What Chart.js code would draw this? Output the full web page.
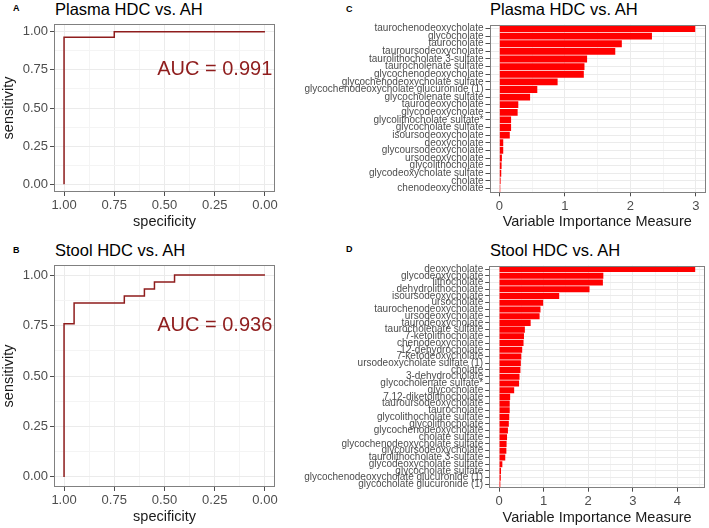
<!DOCTYPE html>
<html>
<head>
<meta charset="utf-8">
<script src="https://cdn.jsdelivr.net/npm/chart.js@4.4.1/dist/chart.umd.min.js"></script>
<style>
  html, body { margin: 0; padding: 0; background: #fff; }
  body { width: 709px; height: 528px; position: relative; overflow: hidden;
         font-family: "Liberation Sans", Arial, sans-serif; }
  .wrap { position: absolute; }
  .ttl { position: absolute; font-size: 16.5px; color: #000; white-space: nowrap; line-height: 1; }
  .tag { position: absolute; font-size: 9px; font-weight: bold; color: #000; line-height: 1; }
</style>
</head>
<body>
<div class="tag" style="left:13px;top:4px">A</div>
<div class="ttl" style="left:55px;top:1px">Plasma HDC vs. AH</div>
<div class="tag" style="left:13px;top:246px">B</div>
<div class="ttl" style="left:55px;top:242px">Stool HDC vs. AH</div>
<div class="tag" style="left:346px;top:5px">C</div>
<div class="ttl" style="left:490px;top:1px">Plasma HDC vs. AH</div>
<div class="tag" style="left:346px;top:245px">D</div>
<div class="ttl" style="left:490px;top:242px">Stool HDC vs. AH</div>

<div class="wrap" style="left:0;top:0"><canvas id="rocA" width="290" height="240"></canvas></div>
<div class="wrap" style="left:0;top:240px"><canvas id="rocB" width="290" height="288"></canvas></div>
<div class="wrap" style="left:290px;top:0"><canvas id="vimC" width="419" height="240"></canvas></div>
<div class="wrap" style="left:290px;top:240px"><canvas id="vimD" width="419" height="288"></canvas></div>

<script>
'use strict';

/* ── Courbes ROC (spécificité / sensibilité) ── */
var ROC_A_SPEC = [1, 1, 0.75, 0];
var ROC_A_SENS = [0, 0.964, 1, 1];
var ROC_B_SPEC = [1, 1, 0.95, 0.70, 0.60, 0.55, 0.45, 0];
var ROC_B_SENS = [0, 0.759, 0.862, 0.897, 0.931, 0.966, 1, 1];
var AUC_A = '0.991';
var AUC_B = '0.936';
var ROC_BREAKS = [0, 0.25, 0.5, 0.75, 1];
var ROC_MINOR = [0.125, 0.375, 0.625, 0.875];

/* ── Importance des variables ── */
var PLASMA_LABELS = [
    'taurochenodeoxycholate', 'glycocholate', 'taurocholate', 'tauroursodeoxycholate',
    'taurolithocholate 3-sulfate', 'taurocholenate sulfate', 'glycochenodeoxycholate',
    'glycochenodeoxycholate sulfate', 'glycochenodeoxycholate glucuronide (1)',
    'glycocholenate sulfate', 'taurodeoxycholate', 'glycodeoxycholate',
    'glycolithocholate sulfate*', 'glycocholate sulfate', 'isoursodeoxycholate',
    'deoxycholate', 'glycoursodeoxycholate', 'ursodeoxycholate', 'glycolithocholate',
    'glycodeoxycholate sulfate', 'cholate', 'chenodeoxycholate'
];
var PLASMA_VIM = [
    2.99, 2.33, 1.87, 1.77, 1.34, 1.30, 1.29, 0.89, 0.58, 0.47, 0.29,
    0.28, 0.18, 0.18, 0.16, 0.06, 0.06, 0.04, 0.035, 0.03, 0.02, 0.015
];
var PLASMA_BREAKS = [0, 1, 2, 3];
var PLASMA_MINOR = [0.5, 1.5, 2.5];

var STOOL_LABELS = [
    'deoxycholate', 'glycodeoxycholate', 'lithocholate', 'dehydrolithocholate',
    'isoursodeoxycholate', 'ursocholate', 'taurochenodeoxycholate', 'ursodeoxycholate',
    'taurodeoxycholate', 'taurocholenate sulfate', '7-ketolithocholate', 'chenodeoxycholate',
    '12-dehydrocholate', '7-ketodeoxycholate', 'ursodeoxycholate sulfate (1)', 'cholate',
    '3-dehydrocholate', 'glycocholenate sulfate*', 'glycocholate', '7,12-diketolithocholate',
    'tauroursodeoxycholate', 'taurocholate', 'glycolithocholate sulfate', 'glycolithocholate',
    'glycochenodeoxycholate', 'cholate sulfate', 'glycochenodeoxycholate sulfate',
    'glycoursodeoxycholate', 'taurolithocholate 3-sulfate', 'glycodeoxycholate sulfate',
    'glycocholate sulfate', 'glycochenodeoxycholate glucuronide (1)', 'glycocholate glucuronide (1)'
];
var STOOL_VIM = [
    4.40, 2.34, 2.33, 2.03, 1.35, 0.99, 0.93, 0.91, 0.71, 0.58, 0.56,
    0.55, 0.52, 0.50, 0.49, 0.48, 0.46, 0.45, 0.34, 0.25, 0.24, 0.24,
    0.23, 0.22, 0.20, 0.18, 0.17, 0.165, 0.14, 0.075, 0.045, 0.04, 0.03
];
var STOOL_BREAKS = [0, 1, 2, 3, 4];
var STOOL_MINOR = [0.5, 1.5, 2.5, 3.5, 4.5];

/* ── Style ── */
var ROC_COLOR = '#8f1d1d';
var BAR_COLOR = '#ff0000';
var GRID_MAJOR = '#ebebeb';
var GRID_MINOR = '#f4f4f4';
var TICK_COLOR = '#4d4d4d';

Chart.defaults.font.family = '"Liberation Sans", Arial, sans-serif';
Chart.defaults.color = '#4d4d4d';

/* Cadre du panneau (theme_bw) */
var panelBorder = {
    id: 'panelBorder',
    afterDatasetsDraw: function (chart) {
        var a = chart.chartArea, c = chart.ctx;
        c.save();
        c.strokeStyle = '#808080';
        c.lineWidth = 1;
        c.strokeRect(Math.round(a.left) + 0.5, Math.round(a.top) + 0.5,
                     Math.round(a.right - a.left) - 1, Math.round(a.bottom - a.top) - 1);
        c.restore();
    }
};

/* Texte AUC placé en coordonnées de données */
var aucLabel = {
    id: 'aucLabel',
    afterDatasetsDraw: function (chart, args, opts) {
        if (!opts || !opts.text) { return; }
        var c = chart.ctx;
        c.save();
        c.font = '20px "Liberation Sans", Arial, sans-serif';
        c.fillStyle = ROC_COLOR;
        c.textAlign = 'center';
        c.textBaseline = 'middle';
        c.fillText(opts.text, chart.scales.x.getPixelForValue(opts.x),
                   chart.scales.y.getPixelForValue(opts.y));
        c.restore();
    }
};

/* ── Utilitaires ── */
function tickList(major, minor) {
    return major.concat(minor).sort(function (a, b) { return a - b; })
        .map(function (v) { return { value: v }; });
}

function numAxis(opts) {
    var major = opts.major;
    var ax = {
        type: 'linear',
        min: opts.min,
        max: opts.max,
        reverse: !!opts.reverse,
        afterBuildTicks: function (s) { s.ticks = tickList(major, opts.minor); },
        ticks: {
            autoSkip: false, maxRotation: 0, padding: 2,
            font: { size: 13 }, color: TICK_COLOR,
            callback: function (v) {
                return major.indexOf(v) >= 0 ? v.toFixed(opts.digits) : '';
            }
        },
        grid: {
            tickLength: 4,
            color: function (ctx) {
                return ctx.tick && major.indexOf(ctx.tick.value) >= 0 ? GRID_MAJOR : GRID_MINOR;
            },
            tickColor: function (ctx) {
                return ctx.tick && major.indexOf(ctx.tick.value) >= 0 ? TICK_COLOR : 'rgba(0,0,0,0)';
            }
        },
        border: { display: false },
        title: { display: true, text: opts.title, color: '#1a1a1a', font: { size: 14.5 }, padding: 0 },
        afterFit: function (s) { s[opts.fitProp] = opts.fitSize; }
    };
    return ax;
}

/* ================================================================
   Courbes ROC
   ================================================================ */
function buildRoc(id, spec, sens, auc, xH, pad) {
    var pts = spec.map(function (s, i) { return { x: s, y: sens[i] }; });
    return new Chart(document.getElementById(id), {
        type: 'line',
        data: {
            datasets: [{
                data: pts,
                borderColor: ROC_COLOR,
                borderWidth: 1.5,
                stepped: 'before',
                pointRadius: 0,
                fill: false
            }]
        },
        options: {
            responsive: false,
            animation: false,
            layout: { padding: pad },
            plugins: {
                legend: { display: false },
                tooltip: { enabled: false },
                aucLabel: { text: 'AUC = ' + auc, x: 0.25, y: 0.75 }
            },
            scales: {
                x: numAxis({ min: -0.05, max: 1.05, reverse: true, major: ROC_BREAKS, minor: ROC_MINOR,
                             digits: 2, title: 'specificity', fitProp: 'height', fitSize: xH }),
                y: numAxis({ min: -0.05, max: 1.05, major: ROC_BREAKS, minor: ROC_MINOR,
                             digits: 2, title: 'sensitivity', fitProp: 'width', fitSize: 54 })
            }
        },
        plugins: [panelBorder, aucLabel]
    });
}

/* ================================================================
   Importance des variables (barres horizontales)
   ================================================================ */
function buildVim(id, labels, values, major, minor, yW, xH, pad) {
    var vmax = Math.max.apply(null, values);
    return new Chart(document.getElementById(id), {
        type: 'bar',
        data: {
            labels: labels,
            datasets: [{
                data: values,
                backgroundColor: BAR_COLOR,
                borderWidth: 0,
                barPercentage: 0.9,
                categoryPercentage: 1
            }]
        },
        options: {
            indexAxis: 'y',
            responsive: false,
            animation: false,
            layout: { padding: pad },
            plugins: { legend: { display: false }, tooltip: { enabled: false } },
            scales: {
                x: numAxis({ min: -0.05 * vmax, max: 1.05 * vmax, major: major, minor: minor,
                             digits: 0, title: 'Variable Importance Measure', fitProp: 'height', fitSize: xH }),
                y: {
                    type: 'category',
                    offset: true,
                    grid: { offset: false, color: GRID_MAJOR, tickColor: TICK_COLOR, tickLength: 4 },
                    border: { display: false },
                    ticks: { autoSkip: false, padding: 2, font: { size: 10 }, color: TICK_COLOR },
                    afterFit: function (s) { s.width = yW; }
                }
            }
        },
        plugins: [panelBorder]
    });
}

buildRoc('rocA', ROC_A_SPEC, ROC_A_SENS, AUC_A, 38.4, { top: 24, right: 15, bottom: 9.6, left: 0 });
buildRoc('rocB', ROC_B_SPEC, ROC_B_SENS, AUC_B, 38.4, { top: 25, right: 15, bottom: 2.6, left: 0 });
buildVim('vimC', PLASMA_LABELS, PLASMA_VIM, PLASMA_BREAKS, PLASMA_MINOR, 199.5, 38.1,
         { top: 24.7, right: 4, bottom: 9.6, left: 0 });
buildVim('vimD', STOOL_LABELS, STOOL_VIM, STOOL_BREAKS, STOOL_MINOR, 199.2, 39,
         { top: 25.7, right: 4, bottom: 1.3, left: 0 });
</script>
</body>
</html>
